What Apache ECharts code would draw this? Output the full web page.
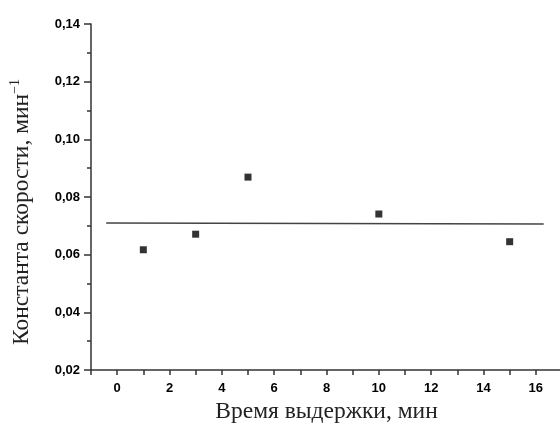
<!DOCTYPE html>
<html>
<head>
<meta charset="utf-8">
<script src="https://cdn.jsdelivr.net/npm/echarts@6/dist/echarts.min.js"></script>
<style>html,body{margin:0;padding:0;background:#fff}#c{width:560px;height:426px}</style>
</head>
<body>
<div id="c"></div>
<script>
var holdTimes = [1, 3, 5, 10, 15];
var rateConst = [0.0617, 0.0671, 0.0869, 0.0741, 0.0645];
var fitX = [-0.42, 16.3];
var fitY = [0.0710, 0.0706];
var xTitle = 'Время выдержки, мин';
var yTitle = 'Константа скорости, мин';
var ySup = '−1';

var chart = echarts.init(document.getElementById('c'));
var axisCol = '#333';
chart.setOption({
  animation: false,
  grid: { left: 91, right: -2, top: 24, bottom: 56, outerBoundsMode: 'none', containLabel: false },
  xAxis: {
    type: 'value', min: -1, max: 17, interval: 1,
    splitLine: { show: false },
    axisLine: { onZero: false, lineStyle: { color: axisCol, width: 1.5 } },
    axisTick: { length: 5, lineStyle: { color: axisCol, width: 1.5 } },
    axisLabel: {
      margin: 12, color: '#000', fontFamily: 'Liberation Sans', fontWeight: 'bold', fontSize: 13,
      formatter: function (v) { return (v >= 0 && v % 2 === 0) ? String(v) : ''; }
    },
    name: xTitle, nameLocation: 'middle', nameGap: 25,
    nameTextStyle: { fontFamily: 'Liberation Serif', fontSize: 23.5, color: '#222' }
  },
  yAxis: {
    type: 'value', min: 0.02, max: 0.14, interval: 0.02,
    splitLine: { show: false },
    axisLine: { onZero: false, lineStyle: { color: axisCol, width: 1.5 } },
    axisTick: { length: 7, lineStyle: { color: axisCol, width: 1.5 } },
    minorTick: { show: true, splitNumber: 2, length: 4, lineStyle: { color: axisCol, width: 1.5 } },
    axisLabel: {
      margin: 11, color: '#000', fontFamily: 'Liberation Sans', fontWeight: 'bold', fontSize: 13,
      formatter: function (v) { return v.toFixed(2).replace('.', ','); }
    },
    name: '{m|' + yTitle + '}{s|' + ySup + '}', nameLocation: 'middle', nameGap: 55,
    nameTextStyle: {
      padding: [0, 30, 0, 0],
      rich: {
        m: { fontFamily: 'Liberation Serif', fontSize: 23.5, color: '#222' },
        s: { fontFamily: 'Liberation Serif', fontSize: 14, color: '#222', verticalAlign: 'top', padding: [0, 0, 14, 0] }
      }
    }
  },
  series: [
    {
      type: 'line', data: fitX.map(function (x, i) { return [x, fitY[i]]; }),
      symbol: 'none', lineStyle: { color: '#444', width: 1.5 }
    },
    {
      type: 'scatter', data: holdTimes.map(function (x, i) { return [x, rateConst[i]]; }),
      symbol: 'rect', symbolSize: 7, itemStyle: { color: '#000' }
    }
  ]
});
</script>
</body>
</html>
